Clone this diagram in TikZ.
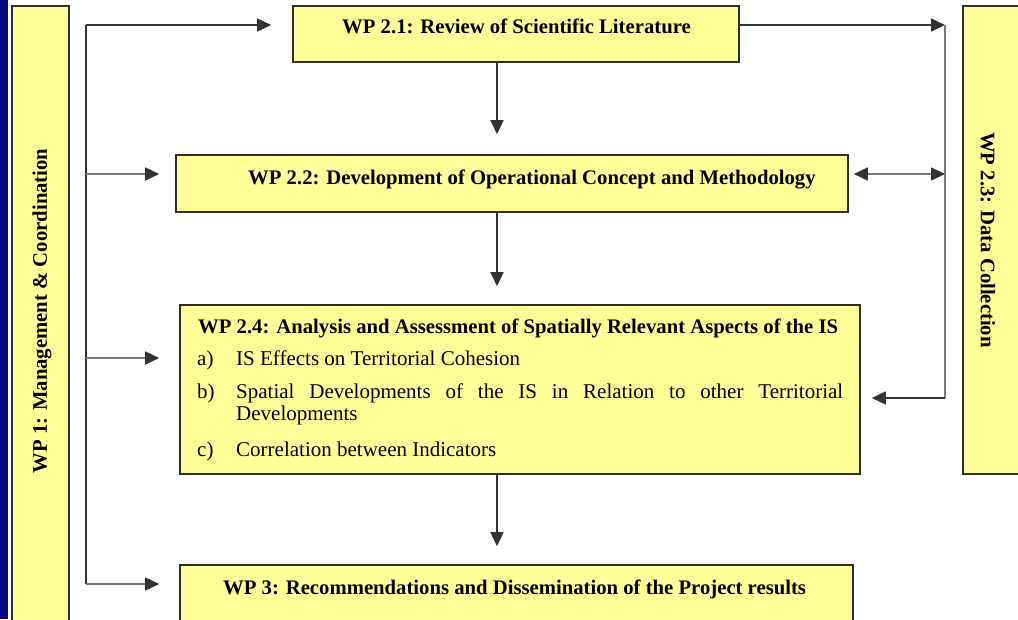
\documentclass[tikz,border=0pt]{standalone}
\usepackage{fontspec}
\setmainfont{Liberation Serif}
\usetikzlibrary{arrows.meta}
\definecolor{boxfill}{HTML}{FFFF99}
\definecolor{boxline}{HTML}{2E2E2E}
\definecolor{connline}{HTML}{333333}
\definecolor{lightline}{HTML}{7A7A7A}
\definecolor{navyband}{HTML}{0A0A80}
\begin{document}
\begin{tikzpicture}[x=1pt,y=-1pt,
  wpbox/.style={draw=boxline, line width=1.6pt, fill=boxfill, inner sep=0pt},
  titletext/.style={font=\fontsize{20.7}{23}\selectfont\bfseries, inner sep=0pt, anchor=base west},
  itemtext/.style={font=\fontsize{21}{23}\selectfont, inner sep=0pt, anchor=base west},
  conn/.style={draw=connline, line width=1.6pt},
  lconn/.style={draw=lightline, line width=1.6pt},
  arr/.style={conn, -{Triangle[length=14pt,width=13pt]}},
  larr/.style={lconn, -{Triangle[length=14pt,width=13pt,color=connline]}},
  darr/.style={lconn, {Triangle[length=14pt,width=13pt,color=connline]}-{Triangle[length=14pt,width=13pt,color=connline]}}]
\useasboundingbox (0,0) rectangle (1018,619);
\fill[navyband] (0,0) rectangle (8,619);

% boxes
\node[wpbox, minimum width=57pt, minimum height=644pt] (wp1) at (40.5,328) {};
\node[wpbox, minimum width=446pt, minimum height=56pt] (wp21) at (516,34) {};
\node[wpbox, minimum width=672pt, minimum height=57pt] (wp22) at (512,183.5) {};
\node[wpbox, minimum width=680pt, minimum height=169pt] (wp24) at (520,389.5) {};
\node[wpbox, minimum width=673pt, minimum height=85pt] (wp3) at (516.5,607.5) {};
\node[wpbox, minimum width=77pt, minimum height=468pt] (wp23) at (1001.5,240) {};

% texts
\node[titletext, anchor=center, rotate=90] (t1) at (42,311) {WP 1: Management \& Coordination};
\node[titletext, anchor=center, rotate=-90] (t23) at (988,240) {WP 2.3: Data Collection};
\node[titletext] (t21) at (342,33) {WP 2.1: Review of Scientific Literature};
\node[titletext] (t22) at (248,184) {WP 2.2: Development of Operational Concept and Methodology};
\node[titletext] (t24) at (198,333) {WP 2.4: Analysis and Assessment of Spatially Relevant Aspects of the IS};
\node[itemtext] (la) at (197,365) {a)};
\node[itemtext] (ia) at (236,365) {IS Effects on Territorial Cohesion};
\node[itemtext] (lb) at (197,398) {b)};
\node[itemtext] (ib) at (236,398) {\makebox[607pt][s]{Spatial Developments of the IS in Relation to other Territorial}};
\node[itemtext] (ib2) at (236,420) {Developments};
\node[itemtext] (lc) at (197,456) {c)};
\node[itemtext] (ic) at (236,456) {Correlation between Indicators};
\node[titletext] (t3) at (223,594) {WP 3: Recommendations and Dissemination of the Project results};

% left distribution line
\coordinate (ltop) at (86,25);
\coordinate (l2) at (86,174);
\coordinate (l4) at (86,358);
\coordinate (lbot) at (86,584);
\draw[conn] (ltop) -- (lbot);
\draw[arr, shorten >=21pt] (ltop) -- (ltop -| wp21.west);
\draw[larr, shorten >=16pt] (l2) -- (l2 -| wp22.west);
\draw[larr, shorten >=20pt] (l4) -- (l4 -| wp24.west);
\draw[larr, shorten >=20pt] (lbot) -- (lbot -| wp3.west);

% right side (data collection)
\coordinate (rtop) at (945,25);
\coordinate (r2) at (945,174);
\coordinate (r4) at (945,398);
\draw[arr] (wp21.east |- rtop) -- (rtop);
\draw[lconn] (rtop) -- (r4);
\draw[darr, shorten <=5pt] (wp22.east |- r2) -- (r2);
\draw[arr, shorten >=11pt] (r4) -- (r4 -| wp24.east);

% vertical flow
\coordinate (dx) at (497,0);
\draw[arr, shorten >=20pt] (wp21.south -| dx) -- (wp22.north -| dx);
\draw[arr, shorten >=18pt] (wp22.south -| dx) -- (wp24.north -| dx);
\draw[arr, shorten >=18pt] (wp24.south -| dx) -- (wp3.north -| dx);
\end{tikzpicture}
\end{document}
